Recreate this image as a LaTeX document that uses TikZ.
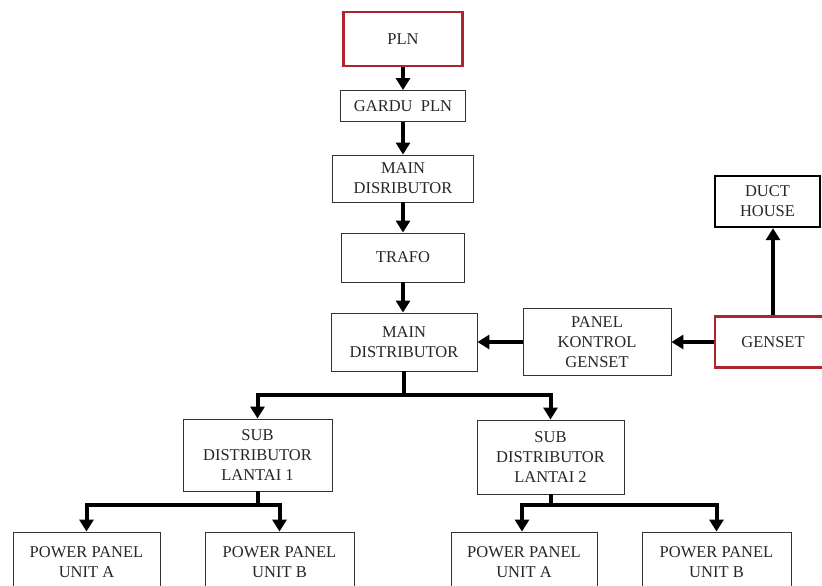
\documentclass[tikz,border=0pt]{standalone}
\usepackage{fontspec}
\setmainfont{Liberation Serif}
\usetikzlibrary{arrows.meta}

\definecolor{rojo}{RGB}{175,35,45}
\tikzset{
  caja/.style={draw=black!80, line width=0.9pt, align=center, inner sep=0pt,
    text=black!85, font=\fontsize{16.5}{20}\selectfont},
  cajaroja/.style={caja, draw=rojo, line width=2.4pt},
  cajanegra/.style={caja, draw=black, line width=2.4pt},
  flecha/.style={line width=4pt, -{Triangle[width=14pt,length=12pt]}}
}

\begin{document}
\begin{tikzpicture}[x=1pt,y=-1pt]
        \useasboundingbox (0,0) rectangle (822,586);
        \clip (0,0) rectangle (822,586);
        \fill[white] (0,0) rectangle (822,586);

        % Linea principal PLN
        \node[cajaroja, minimum width=119pt, minimum height=54pt] (pln) at (403,39) {PLN};
        \node[caja, minimum width=125pt, minimum height=31pt] (gardu) at (403,106) {GARDU\ \ PLN};
        \node[caja, minimum width=141pt, minimum height=47pt] (mdis) at (403,178.5) {MAIN\\DISRIBUTOR};
        \node[caja, minimum width=123pt, minimum height=49pt] (trafo) at (403,257.5) {TRAFO};
        \node[caja, minimum width=146pt, minimum height=58pt] (mdist) at (404,342) {MAIN\\DISTRIBUTOR};

        % Genset
        \node[caja, minimum width=148pt, minimum height=67pt] (panel) at (597,342) {PANEL\\KONTROL\\GENSET};
        \node[cajaroja, minimum width=116pt, minimum height=51pt] (genset) at (773,342) {GENSET};
        \node[cajanegra, minimum width=105pt, minimum height=51pt] (duct) at (767.5,201.5) {DUCT\\HOUSE};

        % Sub distributor
        \node[caja, minimum width=149pt, minimum height=72pt] (sub1) at (257.5,455) {SUB\\DISTRIBUTOR\\LANTAI 1};
        \node[caja, minimum width=147pt, minimum height=74pt] (sub2) at (550.5,457) {SUB\\DISTRIBUTOR\\LANTAI 2};

        % Power panel
        \node[caja, minimum width=147pt, minimum height=60pt] (ppa1) at (86.5,562) {POWER\ PANEL\\UNIT A};
        \node[caja, minimum width=149pt, minimum height=60pt] (ppb1) at (279.5,562) {POWER\ PANEL\\UNIT B};
        \node[caja, minimum width=146pt, minimum height=60pt] (ppa2) at (524,562) {POWER\ PANEL\\UNIT A};
        \node[caja, minimum width=149pt, minimum height=60pt] (ppb2) at (716.5,562) {POWER\ PANEL\\UNIT B};

        % Flechas
        \draw[flecha] (pln) -- (gardu);
        \draw[flecha] (gardu) -- (mdis);
        \draw[flecha] (mdis) -- (trafo);
        \draw[flecha] (trafo.south) -- (trafo.south |- mdist.north);
        \draw[flecha] (genset) -- (panel);
        \draw[flecha] (panel) -- (mdist);
        \draw[flecha] (genset.north) -- (genset.north |- duct.south);

        \draw[flecha] (mdist.south) -- ++(0,24) -| (sub1.north);
        \draw[flecha] (mdist.south) -- ++(0,24) -| (sub2.north);
        \draw[flecha] (sub1.south) -- ++(0,14) -| (ppa1.north);
        \draw[flecha] (sub1.south) -- ++(0,14) -| (ppb1.north);
        \draw[flecha] (sub2.south) -- ++(0,11) -| ([xshift=-2pt]ppa2.north);
        \draw[flecha] (sub2.south) -- ++(0,11) -| (ppb2.north);
    \end{tikzpicture}
\end{document}
